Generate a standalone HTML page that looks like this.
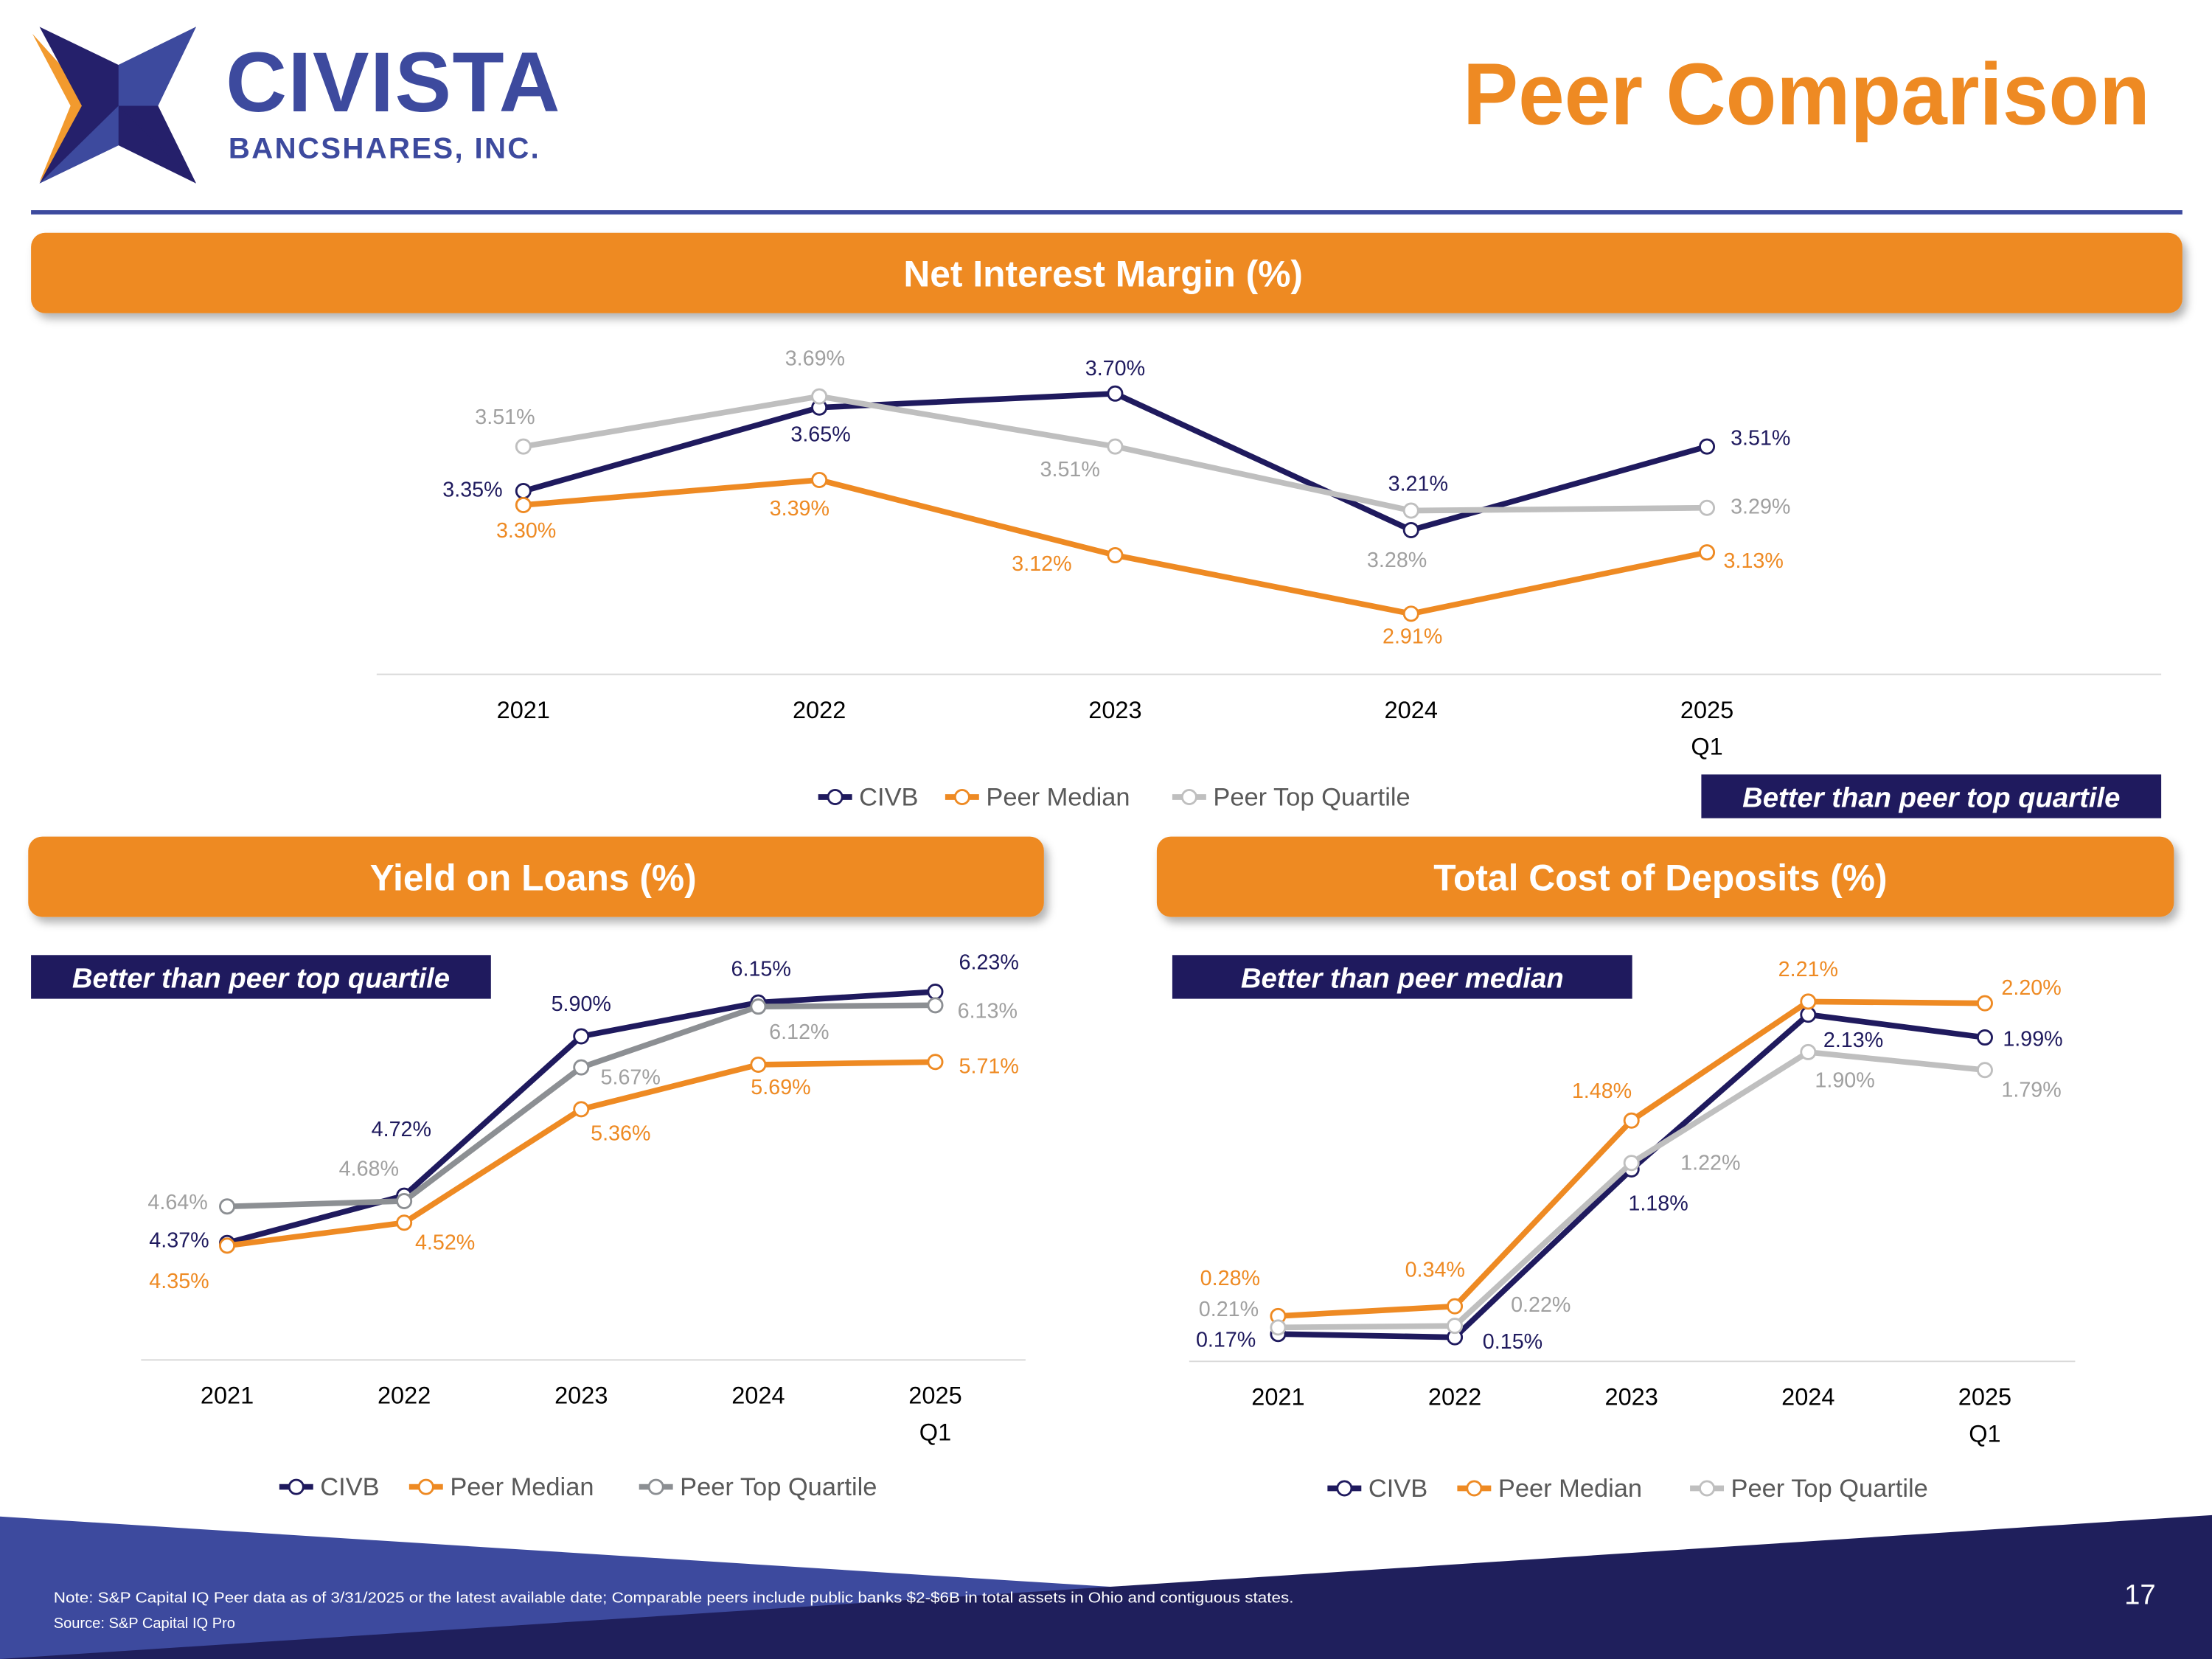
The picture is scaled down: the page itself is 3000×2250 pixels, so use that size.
<!DOCTYPE html>
<html><head><meta charset="utf-8"><style>
html,body{margin:0;padding:0;background:#fff;}
svg{display:block;font-family:"Liberation Sans",sans-serif;}
</style></head><body>
<svg id="root" width="3000" height="2250" viewBox="0 0 1568 1176" xmlns="http://www.w3.org/2000/svg">
<defs>
<filter id="sh" x="-5%" y="-20%" width="110%" height="160%"><feDropShadow dx="3" dy="4" stdDeviation="3" flood-color="#000" flood-opacity="0.3"/></filter>
</defs>
<g>
<polygon points="23,24 69,75 28,129 50,75" fill="#f29a2e"/>
<polygon points="28,19 84,46 139,19 112,75 139,130 84,103 28,130 58,75" fill="#25206b"/>
<polygon points="84,46 139,19 112,75 84,75" fill="#3d4a9e"/>
<polygon points="84,75 112,75 139,130" fill="#25206b"/>
<polygon points="28,130 84,75 84,103" fill="#3d4a9e"/>
<text x="160" y="79" font-size="60" font-weight="bold" fill="#3d4a9e" textLength="237">CIVISTA</text>
<text x="162" y="112" font-size="21" font-weight="bold" fill="#3d4a9e" textLength="220">BANCSHARES, INC.</text>
</g>
<text x="1037" y="88" font-size="62" font-weight="bold" fill="#ee8a23" textLength="487" lengthAdjust="spacingAndGlyphs">Peer Comparison</text>
<rect x="22" y="149" width="1525" height="3" fill="#3d4a9e"/>

<g><rect x="22" y="165" width="1525" height="57" rx="10" fill="#ee8a23" filter="url(#sh)"/>
<text x="782" y="203" text-anchor="middle" font-size="26" font-weight="bold" fill="#fff">Net Interest Margin (%)</text></g>
<g><rect x="20" y="593" width="720" height="57" rx="10" fill="#ee8a23" filter="url(#sh)"/>
<text x="378" y="631" text-anchor="middle" font-size="26" font-weight="bold" fill="#fff">Yield on Loans (%)</text></g>
<g><rect x="820" y="593" width="721" height="57" rx="10" fill="#ee8a23" filter="url(#sh)"/>
<text x="1177" y="631" text-anchor="middle" font-size="26" font-weight="bold" fill="#fff">Total Cost of Deposits (%)</text></g>

<g><rect x="1206" y="549" width="326" height="31" fill="#1f1a5e"/>
<text x="1369" y="572" text-anchor="middle" font-size="20" font-weight="bold" font-style="italic" fill="#fff">Better than peer top quartile</text></g>
<g><rect x="22" y="677" width="326" height="31" fill="#1f1a5e"/>
<text x="185" y="700" text-anchor="middle" font-size="20" font-weight="bold" font-style="italic" fill="#fff">Better than peer top quartile</text></g>
<g><rect x="831" y="677" width="326" height="31" fill="#1f1a5e"/>
<text x="994" y="700" text-anchor="middle" font-size="20" font-weight="bold" font-style="italic" fill="#fff">Better than peer median</text></g>

<g id="charts"></g>

<g>
<polygon points="0,1075 790,1125 790,1176 0,1176" fill="#3d4a9e"/>
<polygon points="1568,1074 1568,1176 0,1176" fill="#1f1f5c"/>
<text x="38" y="1136" font-size="10.5" fill="#fff" textLength="879" lengthAdjust="spacingAndGlyphs">Note: S&amp;P Capital IQ Peer data as of 3/31/2025 or the latest available date; Comparable peers include public banks $2-$6B in total assets in Ohio and contiguous states.</text>
<text x="38" y="1154" font-size="10.5" fill="#fff">Source: S&amp;P Capital IQ Pro</text>
<text x="1517" y="1137" text-anchor="middle" font-size="20" fill="#fff">17</text>
</g>
</svg>
<script>
const categories = ["2021","2022","2023","2024","2025"];
const nimCivb = [3.35,3.65,3.70,3.21,3.51];
const nimMedian = [3.30,3.39,3.12,2.91,3.13];
const nimTop = [3.51,3.69,3.51,3.28,3.29];
const yieldCivb = [4.37,4.72,5.90,6.15,6.23];
const yieldMedian = [4.35,4.52,5.36,5.69,5.71];
const yieldTop = [4.64,4.68,5.67,6.12,6.13];
const depCivb = [0.17,0.15,1.18,2.13,1.99];
const depMedian = [0.28,0.34,1.48,2.21,2.20];
const depTop = [0.21,0.22,1.22,1.90,1.79];

const NS="http://www.w3.org/2000/svg";
const root=document.getElementById('charts');
function mk(tag,attrs,parent){const e=document.createElementNS(NS,tag);for(const k in attrs)e.setAttribute(k,attrs[k]);parent.appendChild(e);return e;}

function drawChart(cfg){
  const g=mk('g',{},root);
  
  
  const xs=i=>cfg.x0+i*cfg.dx;
  const ys=v=>cfg.yRef+(cfg.vRef-v)*cfg.k;
  const ax=mk('line',{x1:cfg.ax0,x2:cfg.ax1,y1:cfg.axY,y2:cfg.axY,stroke:'#d9d9d9','stroke-width':1},g);
  
  
  categories.forEach((c,i)=>{
    const t=mk('text',{x:xs(i),y:cfg.axY+31,'text-anchor':'middle','font-size':17,fill:'#000'},g);
    t.textContent=c;
    
    
    if(i===categories.length-1){const q=mk('text',{x:xs(i),y:cfg.axY+57,'text-anchor':'middle','font-size':17,fill:'#000'},g);q.textContent='Q1';
      
      }
  });
  cfg.series.forEach(s=>{
    const sg=mk('g',{},g);
    
    
    const pts=s.vals.map((v,i)=>xs(i)+','+ys(v)).join(' ');
    const pl=mk('polyline',{points:pts,fill:'none',stroke:s.color,'stroke-width':4,'stroke-linejoin':'round'},sg);
    
    
    s.vals.forEach((v,i)=>{
      const c=mk('circle',{cx:xs(i),cy:ys(v),r:5,fill:'#fff',stroke:s.color,'stroke-width':1.5},sg);
      
      
      const o=s.off[i];
      const t=mk('text',{x:xs(i)+o[0],y:ys(v)+o[1]+5,'text-anchor':'middle','font-size':15,fill:s.lcolor},sg);
      t.textContent=v.toFixed(2)+'%';
      
      
    });
  });
  const lg=mk('g',{},g);
  
  
  cfg.series.forEach((s,j)=>{
    const mx=cfg.legX[j];
    const eg=mk('g',{},lg);
    
    
    mk('line',{x1:mx-12,x2:mx+12,y1:cfg.legY,y2:cfg.legY,stroke:s.color,'stroke-width':4},eg);
    mk('circle',{cx:mx,cy:cfg.legY,r:5,fill:'#fff',stroke:s.color,'stroke-width':1.5},eg);
    const t=mk('text',{x:mx+17,y:cfg.legY+6,'font-size':18,fill:'#595959'},eg);
    t.textContent=s.label;
  });
}
const navy='#1f1a5e',orange='#ee8a23',gray='#bfbfbf',gtext='#a0a0a0';
drawChart({name:'nim-chart',x0:371,dx:209.75,yRef:279,vRef:3.70,k:197.5,ax0:267,ax1:1532,axY:478,legY:565,legX:[592,682,843],
 series:[
  {key:'civb',label:'CIVB',vals:nimCivb,color:navy,lcolor:navy,off:[[-36,-1],[1,19],[0,-18],[5,-33],[38,-6]]},
  {key:'peer-median',label:'Peer Median',vals:nimMedian,color:orange,lcolor:orange,off:[[2,18],[-14,20],[-52,6],[1,16],[33,6]]},
  {key:'peer-top-quartile',label:'Peer Top Quartile',vals:nimTop,color:gray,lcolor:gtext,off:[[-13,-21],[-3,-27],[-32,16],[-10,35],[38,-1]]}]});
drawChart({name:'yield-chart',x0:161,dx:125.5,yRef:703,vRef:6.23,k:95.74,ax0:100,ax1:727,axY:964,legY:1054,legX:[210,302,465],
 series:[
  {key:'civb',label:'CIVB',vals:yieldCivb,color:navy,lcolor:navy,off:[[-34,-2],[-2,-47],[0,-23],[2,-24],[38,-21]]},
  {key:'peer-median',label:'Peer Median',vals:yieldMedian,color:orange,lcolor:orange,off:[[-34,25],[29,14],[28,17],[16,16],[38,3]]},
  {key:'peer-top-quartile',label:'Peer Top Quartile',vals:yieldTop,color:'#8c8f93',lcolor:gtext,off:[[-35,-3],[-25,-23],[35,7],[29,18],[37,4]]}]});
drawChart({name:'deposits-chart',x0:906,dx:125.25,yRef:710,vRef:2.21,k:115.5,ax0:843,ax1:1471,axY:965,legY:1055,legX:[953,1045,1210],
 series:[
  {key:'civb',label:'CIVB',vals:depCivb,color:navy,lcolor:navy,off:[[-37,4],[41,3],[19,24],[32,18],[34,1]]},
  {key:'peer-median',label:'Peer Median',vals:depMedian,color:orange,lcolor:orange,off:[[-34,-27],[-14,-26],[-21,-21],[0,-23],[33,-11]]},
  {key:'peer-top-quartile',label:'Peer Top Quartile',vals:depTop,color:gray,lcolor:gtext,off:[[-35,-13],[61,-15],[56,0],[26,20],[33,14]]}]});
</script>
</body></html>
